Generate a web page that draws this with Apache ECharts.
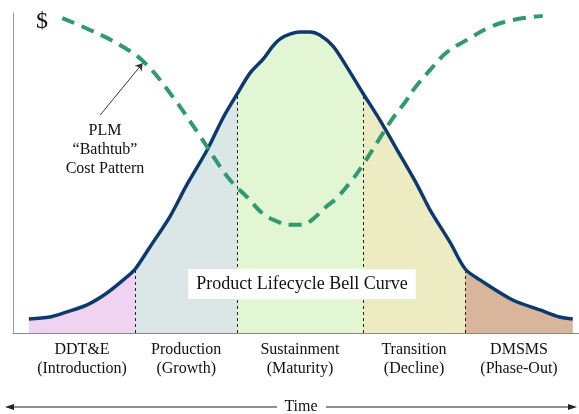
<!DOCTYPE html>
<html>
<head>
<meta charset="utf-8">
<script src="https://cdn.jsdelivr.net/npm/echarts@6/dist/echarts.min.js"></script>
<style>
  html, body { margin: 0; padding: 0; background: #fff; }
  #chart { width: 579px; height: 414px; }
</style>
</head>
<body>
<div id="chart"></div>
<script>
// time runs 0..100 left to right, cost/volume 0..100 bottom to top
const bellX = [2.8, 6.5, 9.5, 13.1, 16.6, 20.1, 21.6, 24.2, 27.7, 30.7, 34.3, 37.1, 39.6, 41.9, 44.2, 45.8,
  47.2, 48.9, 50.7, 52.5, 54.2, 56.5, 59.0, 61.8, 64.8, 68.4, 71.4, 73.7, 77.2, 79.9, 82.5, 88.3, 93.1, 96.6, 98.9];
const bellY = [4.4, 5.0, 6.6, 8.8, 12.5, 17.5, 20.0, 26.9, 36.3, 46.3, 57.2, 67.2, 74.7, 81.3, 85.6, 89.4,
  91.9, 93.4, 94.1, 94.1, 93.1, 89.7, 83.1, 75.0, 66.6, 55.6, 46.3, 38.4, 28.4, 20.0, 16.6, 10.3, 7.2, 5.0, 4.4];

const tubX = [8.7, 13.6, 18.9, 23.3, 28.1, 33.4, 35.9, 38.5, 41.5, 44.2, 46.9, 48.9, 51.1, 53.0, 55.1,
  57.2, 59.9, 61.8, 64.5, 66.9, 69.3, 71.0, 73.7, 76.7, 80.2, 84.3, 88.3, 93.6];
const tubY = [98.4, 94.7, 90.0, 84.4, 74.1, 60.6, 53.8, 47.5, 42.2, 37.2, 34.7, 33.8, 33.8, 35.6, 39.1,
  42.2, 47.8, 52.5, 60.0, 66.6, 72.2, 76.6, 82.2, 87.8, 91.6, 95.6, 97.8, 99.1];

const phaseNames = ['DDT&E\n(Introduction)', 'Production\n(Growth)', 'Sustainment\n(Maturity)',
  'Transition\n(Decline)', 'DMSMS\n(Phase-Out)'];
const phaseEdges = [2.8, 21.6, 39.6, 61.8, 79.9, 98.9];

const phaseColors = ['#efd3f1', '#dbe6e6', '#e2f6d3', '#ecebc1', '#d8b69b'];
const serif = '"Liberation Serif", "Times New Roman", serif';

const chart = echarts.init(document.getElementById('chart'));

const bellPts = bellX.map((x, i) => [x, bellY[i]]);
const tubPts = tubX.map((x, i) => [x, tubY[i]]);

const fills = phaseNames.map((name, i) => ({
  type: 'line',
  name: name,
  data: bellPts.filter(p => p[0] >= phaseEdges[i] && p[0] <= phaseEdges[i + 1]),
  smooth: 0.3,
  showSymbol: false,
  lineStyle: { width: 0 },
  areaStyle: { color: phaseColors[i], opacity: 1 },
  silent: true,
  z: 1
}));

// dashed dividers from the axis up to the curve
const dividers = phaseEdges.slice(1, -1).map(x => {
  const y = bellY[bellX.indexOf(x)];
  return [{ coord: [x, 0] }, { coord: [x, y] }];
});

chart.setOption({
  animation: false,
  grid: { left: 13, right: 0, top: 13, bottom: 81 },
  xAxis: {
    type: 'value', min: 0, max: 100,
    axisLine: { show: true, onZero: false, lineStyle: { color: '#888', width: 1 } },
    axisTick: { show: false }, axisLabel: { show: false }, splitLine: { show: false }
  },
  yAxis: {
    type: 'value', min: 0, max: 100,
    axisLine: { show: true, lineStyle: { color: '#999', width: 1 } },
    axisTick: { show: false }, axisLabel: { show: false }, splitLine: { show: false }
  },
  series: fills.concat([
    {
      type: 'line',
      name: 'Product Lifecycle Bell Curve',
      data: bellPts,
      smooth: 0.3,
      showSymbol: false,
      lineStyle: { color: '#0d3a6c', width: 3.5 },
      z: 4,
      markLine: {
        silent: true,
        symbol: 'none',
        label: { show: false },
        lineStyle: { color: '#222', width: 1, type: [3, 3] },
        z: 2,
        data: dividers
      }
    },
    {
      type: 'line',
      name: 'PLM Bathtub Cost Pattern',
      data: tubPts,
      smooth: 0.4,
      showSymbol: false,
      lineStyle: { color: '#2f9b6d', width: 4, type: [13, 8] },
      z: 5,
      markLine: {
        silent: true,
        symbol: ['none', 'arrow'],
        symbolSize: 7,
        label: { show: false },
        lineStyle: { color: '#333', width: 1, type: 'solid' },
        data: [[{ coord: [15.4, 68.1] }, { coord: [22.9, 84.3] }]]
      }
    }
  ])
});

// labels under each phase, centred between its edges
const labels = phaseNames.map((name, i) => {
  const mid = (phaseEdges[i] + phaseEdges[i + 1]) / 2;
  const px = chart.convertToPixel({ gridIndex: 0 }, [mid, 0]);
  return {
    type: 'text', x: px[0], y: 340,
    style: { text: name, font: '16px ' + serif, fill: '#111', align: 'center', verticalAlign: 'top', lineHeight: 19 }
  };
});

chart.setOption({
  graphic: labels.concat([
    {
      type: 'text', x: 302, y: 284, z: 10,
      style: {
        text: 'Product Lifecycle Bell Curve', font: '18px ' + serif, fill: '#111',
        align: 'center', verticalAlign: 'middle',
        backgroundColor: '#fff', padding: [6, 8, 6, 8]
      }
    },
    {
      type: 'text', x: 42, y: 22,
      style: { text: '$', font: '24px ' + serif, fill: '#111', align: 'center', verticalAlign: 'middle' }
    },
    {
      type: 'text', x: 105, y: 121,
      style: {
        text: 'PLM\n\u201cBathtub\u201d\nCost Pattern', font: '16px ' + serif, fill: '#111',
        align: 'center', verticalAlign: 'top', lineHeight: 19
      }
    },
    {
      type: 'text', x: 301, y: 407,
      style: { text: 'Time', font: '16px ' + serif, fill: '#111', align: 'center', verticalAlign: 'middle' }
    },
    { type: 'line', shape: { x1: 12, y1: 407, x2: 277, y2: 407 }, style: { stroke: '#222', lineWidth: 1 } },
    { type: 'polygon', shape: { points: [[5, 407], [14, 404], [14, 410]] }, style: { fill: '#222' } },
    { type: 'line', shape: { x1: 326, y1: 407, x2: 570, y2: 407 }, style: { stroke: '#222', lineWidth: 1 } },
    { type: 'polygon', shape: { points: [[577, 407], [568, 404], [568, 410]] }, style: { fill: '#222' } }
  ])
});
</script>
</body>
</html>
